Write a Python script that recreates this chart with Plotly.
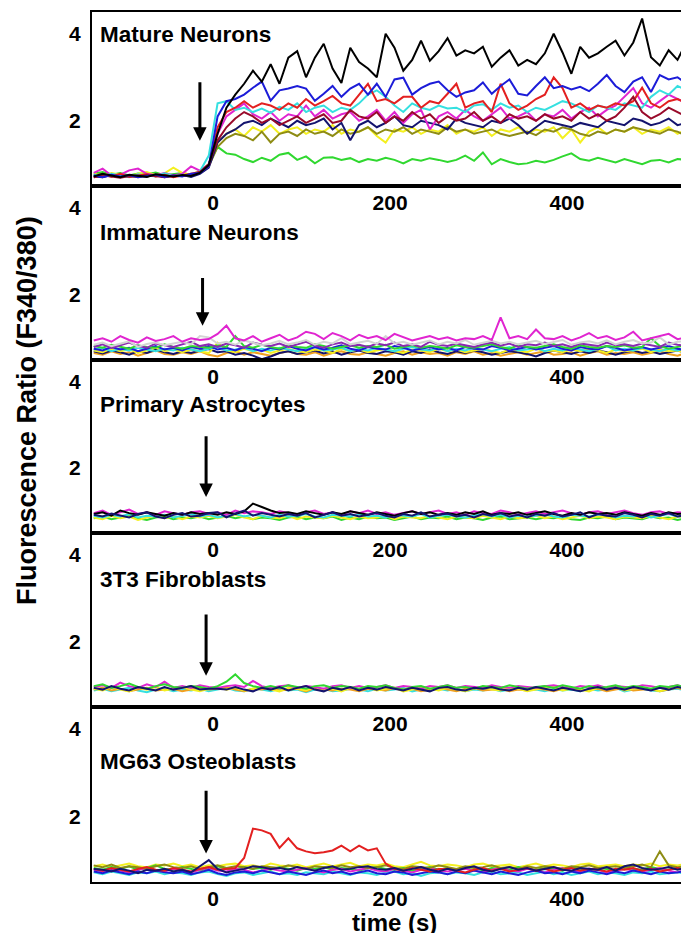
import plotly.graph_objects as go

# ---------------- data ----------------
time_s = list(range(-135, 545, 10))  # sampling times (s), 68 points

# Panel 1: Mature Neurons
mature_black = [0.72,0.78,0.74,0.70,0.76,0.73,0.71,0.77,0.74,0.72,
                0.75,0.73,0.80,0.98,1.70,2.30,2.60,2.85,3.15,2.90,
                3.30,2.85,3.45,3.60,3.00,3.45,3.77,3.20,2.87,3.68,
                3.35,3.20,3.00,4.00,3.68,3.15,3.40,3.84,3.38,3.60,
                3.90,3.50,3.62,3.55,3.70,3.24,3.45,3.62,3.27,3.40,
                3.30,3.55,4.00,3.57,3.08,3.70,3.45,3.55,3.70,3.84,
                3.50,3.80,4.35,3.46,3.27,3.62,3.40,3.80]
mature_blue = [0.74,0.70,0.76,0.72,0.75,0.70,0.73,0.76,0.71,0.74,
               0.72,0.78,0.80,0.95,2.10,2.45,2.50,2.60,2.76,2.90,
               2.46,2.70,2.74,2.80,2.74,2.46,2.62,2.80,2.55,2.74,
               2.85,2.60,2.85,2.55,2.95,2.99,2.60,2.75,2.85,2.90,
               2.70,2.55,2.65,2.70,2.88,2.62,2.80,2.95,2.62,2.58,
               2.80,3.00,2.75,2.80,2.72,2.78,2.68,2.85,3.05,2.80,
               2.66,2.90,3.00,2.66,3.05,2.95,3.00,2.85]
mature_red = [0.70,0.75,0.72,0.78,0.71,0.74,0.77,0.72,0.76,0.70,
              0.74,0.78,0.82,0.95,1.85,2.20,2.30,2.45,2.30,2.40,
              2.35,2.25,2.40,2.30,2.50,2.35,2.45,2.57,2.40,2.35,
              2.60,2.85,2.45,2.50,2.40,2.55,2.55,2.30,2.45,2.40,
              2.62,2.85,2.30,2.40,2.45,2.20,2.85,2.40,2.25,2.35,
              2.50,2.60,3.00,2.75,2.30,2.40,2.25,2.35,2.30,2.40,
              2.35,2.45,2.76,2.40,2.30,2.45,2.50,2.40]
mature_cyan = [0.76,0.72,0.78,0.74,0.70,0.77,0.74,0.72,0.79,0.73,
               0.76,0.74,0.84,1.20,2.40,2.45,2.25,2.30,2.20,2.28,
               2.18,2.32,2.25,2.40,2.20,2.30,2.35,2.20,2.30,2.25,
               2.40,2.60,2.70,2.55,2.35,2.20,2.40,2.30,2.25,2.35,
               2.28,2.30,2.20,2.35,2.38,2.25,2.40,2.30,2.35,2.20,
               2.30,2.25,2.35,2.45,2.40,2.30,2.20,2.35,2.30,2.25,
               2.40,2.35,2.30,2.55,2.70,2.60,2.80,2.70]
mature_magenta = [0.80,0.90,0.74,0.76,0.86,0.90,0.78,0.75,0.80,0.74,
                  0.78,0.95,0.85,1.00,1.70,2.10,2.25,2.40,2.15,2.05,
                  2.20,2.00,2.15,2.10,2.35,2.10,2.25,2.05,2.15,2.20,
                  2.00,2.10,2.25,2.00,2.20,1.95,2.15,2.25,1.80,2.10,
                  2.20,2.05,2.25,2.10,2.00,2.15,2.30,2.05,2.10,2.20,
                  2.00,2.15,2.10,2.25,2.05,2.20,2.30,2.10,2.25,2.35,
                  2.55,2.75,2.40,2.30,2.45,2.60,2.50,2.40]
mature_maroon = [0.70,0.74,0.72,0.69,0.73,0.71,0.75,0.72,0.70,0.74,
                 0.73,0.76,0.82,1.00,1.55,1.85,2.05,2.20,2.10,1.95,
                 2.05,1.90,2.00,2.10,1.95,2.05,2.15,1.95,2.00,2.25,
                 2.10,2.05,2.20,1.95,2.10,2.00,2.20,2.05,2.15,1.95,
                 2.10,2.00,2.05,2.20,2.00,2.10,1.95,2.15,2.05,2.10,
                 2.00,2.15,2.05,2.10,2.00,2.20,2.05,2.15,2.00,2.10,
                 2.30,2.55,2.20,2.05,2.15,2.30,2.20,2.10]
mature_navy = [0.72,0.70,0.75,0.73,0.71,0.74,0.72,0.76,0.70,0.73,
               0.75,0.71,0.78,0.92,1.50,1.70,1.80,1.95,2.00,1.90,
               2.05,1.95,1.85,2.00,1.90,1.95,2.05,1.80,1.95,1.55,
               1.90,2.00,1.85,1.95,2.10,1.90,1.85,2.00,1.95,1.90,
               1.80,2.05,1.95,1.90,1.85,2.00,1.95,2.05,1.90,1.70,
               1.85,2.00,1.95,1.90,1.85,1.95,1.90,1.85,2.00,1.95,
               1.90,2.05,2.00,1.90,1.95,2.05,1.90,1.95]
mature_yellow = [0.78,0.74,0.80,0.76,0.72,0.78,0.82,0.75,0.79,0.92,
                 0.80,0.76,0.85,1.00,1.50,1.70,1.80,1.65,1.85,1.75,
                 1.90,1.70,1.80,1.85,1.70,1.80,1.75,1.90,1.70,1.80,
                 1.75,1.85,1.65,1.50,1.80,1.75,1.85,1.70,1.80,1.75,
                 1.90,1.70,1.80,1.75,1.85,1.65,1.80,1.75,1.85,1.70,
                 1.80,1.75,1.85,1.60,1.80,1.50,1.75,1.85,1.70,1.80,
                 1.75,1.85,1.70,1.80,1.75,1.85,1.70,1.80]
mature_olive = [0.74,0.78,0.72,0.76,0.74,0.70,0.76,0.73,0.77,0.72,
                0.75,0.73,0.80,0.95,1.40,1.60,1.70,1.65,1.55,1.75,
                1.50,1.70,1.75,1.65,1.80,1.70,1.75,1.65,1.80,1.70,
                1.75,1.85,1.70,1.80,1.75,1.85,1.70,1.80,1.75,1.70,
                1.85,1.75,1.80,1.70,1.75,1.80,1.70,1.65,1.70,1.75,
                1.67,1.80,1.75,1.85,1.80,1.70,1.65,1.75,1.70,1.80,
                1.75,1.85,1.80,1.75,1.70,1.80,1.75,1.65]
mature_green = [0.78,0.82,0.76,0.80,0.74,0.79,0.77,0.81,0.75,0.78,
                0.80,0.76,0.82,1.00,1.40,1.25,1.22,1.12,1.05,1.15,
                1.08,1.22,1.26,1.10,1.18,1.02,1.15,1.16,1.10,1.14,
                1.05,1.12,1.08,1.15,1.10,1.02,1.12,1.08,1.14,1.10,
                1.05,1.10,1.20,1.08,1.27,1.00,1.12,1.05,1.00,1.02,
                1.08,1.04,1.10,1.18,1.25,1.12,1.08,1.15,1.10,1.04,
                1.12,1.06,1.00,1.08,1.10,1.04,1.12,1.10]

# Panel 2: Immature Neurons
immature_orange = [0.66,0.62,0.70,0.64,0.68,0.60,0.66,0.72,0.64,0.62,
                   0.68,0.64,0.70,0.62,0.58,0.66,0.70,0.62,0.68,0.64,
                   0.60,0.66,0.70,0.64,0.62,0.68,0.60,0.66,0.70,0.64,
                   0.62,0.68,0.64,0.60,0.66,0.70,0.62,0.68,0.64,0.66,
                   0.60,0.68,0.64,0.70,0.62,0.66,0.60,0.64,0.68,0.62,
                   0.66,0.70,0.62,0.64,0.68,0.60,0.66,0.70,0.62,0.66,
                   0.64,0.68,0.62,0.66,0.70,0.64,0.60,0.66]
immature_navy = [0.70,0.65,0.72,0.68,0.62,0.70,0.66,0.74,0.68,0.64,
                 0.70,0.66,0.72,0.75,0.68,0.70,0.62,0.66,0.60,0.52,
                 0.58,0.66,0.70,0.64,0.68,0.72,0.65,0.70,0.62,0.68,
                 0.72,0.66,0.64,0.70,0.68,0.62,0.70,0.66,0.74,0.68,
                 0.64,0.70,0.66,0.72,0.68,0.62,0.66,0.70,0.68,0.64,
                 0.58,0.66,0.72,0.68,0.64,0.70,0.66,0.72,0.68,0.62,
                 0.68,0.72,0.66,0.70,0.64,0.68,0.72,0.66]
immature_yellow = [0.72,0.68,0.76,0.70,0.74,0.66,0.72,0.78,0.70,0.74,
                   0.68,0.74,0.70,0.66,0.90,0.72,0.68,0.76,0.70,0.74,
                   0.66,0.72,0.76,0.70,0.68,0.74,0.72,0.66,0.76,0.70,
                   0.74,0.68,0.72,0.76,0.70,0.66,0.74,0.72,0.68,0.76,
                   0.70,0.74,0.68,0.72,0.76,0.70,0.66,0.74,0.72,0.68,
                   0.76,0.70,0.72,0.68,0.74,0.70,0.76,0.72,0.66,0.74,
                   0.70,0.72,0.76,0.68,0.74,0.70,0.72,0.66]
immature_cyan = [0.74,0.78,0.70,0.76,0.72,0.78,0.74,0.70,0.76,0.72,
                 0.78,0.74,0.70,0.76,0.80,0.72,0.74,0.78,0.70,0.76,
                 0.72,0.78,0.74,0.70,0.76,0.80,0.72,0.74,0.78,0.70,
                 0.76,0.72,0.78,0.74,0.70,0.76,0.80,0.74,0.72,0.78,
                 0.70,0.76,0.72,0.78,0.74,0.70,0.76,0.80,0.72,0.74,
                 0.78,0.70,0.76,0.72,0.78,0.74,0.70,0.76,0.82,0.72,
                 0.76,0.72,0.78,0.74,0.70,0.76,0.72,0.78]
immature_blue = [0.76,0.72,0.80,0.74,0.78,0.70,0.76,0.82,0.74,0.78,
                 0.72,0.80,0.76,0.82,0.74,0.78,0.72,0.80,0.76,0.70,
                 0.78,0.74,0.82,0.76,0.72,0.80,0.74,0.78,0.84,0.76,
                 0.72,0.80,0.76,0.74,0.82,0.78,0.72,0.76,0.80,0.74,
                 0.78,0.72,0.80,0.76,0.74,0.82,0.78,0.72,0.76,0.80,
                 0.74,0.78,0.82,0.76,0.72,0.80,0.76,0.74,0.82,0.78,
                 0.72,0.76,0.80,0.74,0.78,0.82,0.76,0.72]
immature_green = [0.82,0.78,0.85,0.80,0.76,0.84,0.80,0.78,0.86,0.80,
                  0.76,0.82,0.80,0.78,0.84,0.80,1.05,0.82,0.78,0.85,
                  0.80,0.76,0.84,0.80,0.78,0.86,0.82,0.76,0.80,0.84,
                  0.78,0.82,0.80,0.85,0.76,0.80,0.84,0.78,0.82,0.80,
                  0.76,0.84,0.80,0.78,0.82,0.86,0.80,0.76,0.84,0.80,
                  0.78,0.82,0.86,0.80,0.76,0.84,0.80,0.78,0.82,0.80,
                  0.84,0.78,0.80,1.00,0.82,0.76,0.80,0.84]
immature_purple = [0.80,0.86,0.78,0.84,0.90,0.82,0.78,0.88,0.84,0.80,
                   0.86,0.92,0.82,0.86,0.80,0.88,0.84,0.78,0.90,0.85,
                   0.82,0.88,0.80,0.86,0.92,0.83,0.78,0.86,0.90,0.82,
                   0.85,0.80,0.88,0.84,0.90,0.82,0.86,0.80,0.92,0.85,
                   0.82,0.88,0.84,0.80,0.86,0.90,0.83,0.88,0.80,0.86,
                   0.84,0.90,0.82,0.86,0.80,0.88,0.85,0.82,0.90,0.84,
                   0.86,0.82,0.88,0.84,0.80,0.90,0.85,0.82]
immature_gray = [0.85,0.90,0.82,0.88,0.93,0.80,0.87,0.90,0.84,0.88,
                 0.92,0.86,1.05,1.02,0.88,0.92,0.85,0.95,0.90,0.84,
                 0.88,0.94,0.86,0.90,0.96,0.85,0.92,0.88,1.00,0.86,
                 0.90,0.94,0.87,1.05,0.88,0.92,0.85,0.90,0.95,0.86,
                 0.92,0.88,0.96,0.85,0.90,0.94,0.88,0.92,0.86,0.90,
                 0.94,0.87,0.91,0.96,0.85,0.90,0.93,0.88,0.95,0.86,
                 0.92,0.96,0.88,0.90,1.02,0.86,0.92,0.94]
immature_magenta = [0.95,1.00,0.92,1.05,0.96,0.90,1.02,0.94,0.98,1.05,
                    0.92,1.00,0.96,0.98,1.10,1.29,1.00,0.95,1.05,0.92,
                    1.00,1.08,0.95,1.02,1.15,1.10,0.98,1.12,1.05,0.95,
                    1.08,1.00,1.05,0.96,1.10,1.02,0.95,1.00,1.05,0.98,
                    1.02,0.95,1.00,0.98,1.05,0.96,1.48,1.00,1.05,0.98,
                    1.20,1.00,0.98,1.05,0.95,1.02,1.12,1.00,1.05,0.96,
                    1.02,1.15,0.95,1.00,1.05,1.10,0.98,1.02]

# Panel 3: Primary Astrocytes
astro_green = [0.84,0.88,0.82,0.86,0.90,0.84,0.80,0.86,0.88,0.82,
               0.86,0.84,0.88,0.82,0.86,0.90,0.84,0.88,0.82,0.86,
               0.84,0.80,0.86,0.88,0.82,0.86,0.84,0.88,0.80,0.86,
               0.82,0.88,0.84,0.86,0.80,0.84,0.88,0.82,0.86,0.84,
               0.88,0.82,0.86,0.84,0.80,0.86,0.88,0.82,0.84,0.86,
               0.82,0.86,0.84,0.88,0.82,0.80,0.86,0.84,0.88,0.82,
               0.86,0.84,0.82,0.88,0.84,0.86,0.80,0.84]
astro_yellow = [0.86,0.82,0.90,0.84,0.88,0.80,0.86,0.90,0.84,0.88,
                0.82,0.88,0.86,0.90,0.84,0.88,0.92,0.86,0.82,0.90,
                0.86,0.84,0.90,0.82,0.88,0.86,0.84,0.90,0.86,0.82,
                0.88,0.84,0.86,0.90,0.82,0.88,0.86,0.84,0.90,0.86,
                0.82,0.88,0.86,0.84,0.90,0.86,0.82,0.88,0.84,0.86,
                0.90,0.84,0.88,0.82,0.86,0.90,0.84,0.88,0.86,0.82,
                0.88,0.86,0.84,0.90,0.86,0.82,0.88,0.86]
astro_cyan = [0.90,0.86,0.92,0.88,0.94,0.86,0.90,0.88,0.92,0.86,
              0.90,0.94,0.88,0.92,0.86,0.90,0.94,0.88,0.92,0.90,
              0.86,0.92,0.88,0.90,0.94,0.88,0.86,0.92,0.90,0.88,
              0.94,0.88,0.90,0.86,0.92,0.90,0.88,0.94,0.86,0.90,
              0.92,0.88,0.86,0.90,0.94,0.88,0.92,0.86,0.90,0.88,
              0.90,0.94,0.88,0.86,0.92,0.90,0.88,0.92,0.94,0.86,
              0.90,0.88,0.92,0.86,0.90,0.94,0.88,0.90]
astro_magenta = [0.96,1.02,0.92,0.98,1.04,0.94,0.98,0.92,1.00,0.96,
                 0.92,0.98,1.00,0.94,0.98,0.92,1.02,0.96,1.00,0.98,
                 0.94,1.00,0.96,0.92,0.98,1.02,0.94,0.98,0.92,1.00,
                 0.96,1.02,0.94,0.98,0.92,0.96,1.00,0.94,0.98,1.02,
                 0.94,0.98,0.92,1.00,0.96,0.94,1.02,0.98,0.92,0.96,
                 1.00,0.94,0.98,1.02,0.96,0.92,0.98,1.00,0.94,0.98,
                 1.02,0.96,0.92,0.98,1.00,0.94,0.98,0.96]
astro_black = [0.94,0.98,0.90,1.02,0.96,0.92,0.98,0.94,0.90,0.96,
               0.92,0.98,0.94,0.96,0.92,0.98,0.94,1.00,1.18,1.10,
               1.02,0.96,0.98,0.94,1.00,0.96,0.92,0.98,0.94,1.00,
               0.96,0.92,0.98,0.94,0.90,0.96,1.00,0.94,0.98,0.92,
               0.96,0.92,0.98,0.94,1.00,0.92,0.96,0.94,0.98,0.92,
               0.96,1.00,0.94,0.90,0.96,0.92,0.98,0.94,0.96,0.92,
               0.98,0.94,0.90,0.96,0.92,0.98,0.94,0.96]
astro_navy = [0.92,0.88,0.95,0.90,0.86,0.94,0.98,0.88,0.84,0.92,
              0.96,0.88,0.90,0.96,0.98,0.86,0.95,1.02,0.90,0.96,
              0.92,0.88,0.94,0.90,0.96,0.86,0.92,0.98,0.90,0.94,
              0.88,0.92,0.96,0.90,0.86,0.94,0.90,0.98,0.88,0.92,
              0.95,0.88,0.92,0.86,0.94,0.90,0.96,0.88,0.92,0.86,
              0.94,0.90,0.96,0.88,0.92,0.98,0.86,0.94,0.90,0.88,
              0.96,0.92,0.86,0.94,0.90,0.96,0.88,0.92]

# Panel 4: 3T3 Fibroblasts
fibro_cyan = [0.88,0.92,0.86,0.90,0.94,0.88,0.84,0.90,0.92,0.86,
              0.90,0.88,0.92,0.86,0.90,0.94,0.88,0.86,0.92,0.90,
              0.86,0.92,0.88,0.90,0.84,0.90,0.92,0.86,0.88,0.92,
              0.90,0.86,0.92,0.88,0.90,0.94,0.86,0.90,0.88,0.92,
              0.88,0.92,0.86,0.90,0.88,0.92,0.86,0.90,0.94,0.88,
              0.90,0.86,0.92,0.88,0.90,0.86,0.92,0.88,0.90,0.94,
              0.86,0.90,0.92,0.88,0.86,0.90,0.92,0.88]
fibro_orange = [0.90,0.94,0.88,0.92,0.86,0.90,0.94,0.88,0.90,0.92,
                0.86,0.90,0.94,0.90,0.92,0.96,0.90,0.86,0.92,0.90,
                0.94,0.88,0.90,0.92,0.86,0.94,0.90,0.88,0.92,0.90,
                0.86,0.92,0.90,0.88,0.94,0.90,0.92,0.86,0.90,0.94,
                0.90,0.86,0.92,0.94,0.88,0.90,0.92,0.86,0.90,0.88,
                0.92,0.90,0.86,0.92,0.94,0.88,0.90,0.92,0.86,0.90,
                0.94,0.88,0.90,0.92,0.86,0.90,0.94,0.88]
fibro_yellow = [0.92,0.88,0.96,0.90,0.86,0.94,0.90,0.96,0.88,0.92,
                0.96,0.90,0.86,0.92,0.96,0.90,0.94,0.88,0.92,0.96,
                0.90,0.86,0.94,0.92,0.88,0.96,0.90,0.92,0.86,0.94,
                0.90,0.96,0.88,0.92,0.94,0.86,0.90,0.96,0.92,0.88,
                0.94,0.90,0.86,0.92,0.96,0.90,0.88,0.94,0.92,0.86,
                0.90,0.94,0.96,0.88,0.92,0.90,0.86,0.94,0.92,0.96,
                0.88,0.92,0.94,0.90,0.86,0.92,0.96,0.90]
fibro_magenta = [0.96,1.00,0.94,1.06,0.98,0.94,1.02,0.96,1.08,0.94,
                 0.98,0.94,1.00,0.96,0.94,0.98,1.00,0.96,1.10,0.98,
                 0.94,0.98,1.00,0.94,0.98,0.96,0.92,0.98,1.00,0.94,
                 0.98,0.94,0.96,1.00,0.94,0.98,0.96,0.92,0.98,0.96,
                 1.00,0.94,0.98,0.96,0.94,1.00,0.96,0.94,0.98,0.96,
                 0.94,0.98,1.00,0.96,0.92,0.98,0.96,1.00,0.94,0.98,
                 0.96,0.94,1.00,0.98,0.94,0.96,1.00,0.94]
fibro_green = [0.98,1.02,0.94,0.98,1.04,0.96,0.92,0.98,1.02,0.96,
               0.94,0.98,0.96,0.92,0.98,1.08,1.25,1.05,0.98,0.94,
               0.98,0.94,1.00,0.96,0.92,0.98,1.00,0.94,0.98,0.96,
               0.92,0.98,0.96,1.00,0.94,0.90,0.96,0.98,0.92,0.96,
               1.00,0.94,0.96,0.92,0.98,0.96,0.94,1.00,0.96,0.92,
               0.96,0.98,0.94,1.00,0.96,0.92,0.98,0.94,0.96,1.00,
               0.94,0.98,0.96,0.92,0.98,0.96,1.00,0.94]
fibro_navy = [0.94,0.90,0.98,0.92,0.88,0.96,0.92,0.88,0.96,0.90,
              0.94,0.98,0.90,0.92,0.92,0.90,0.96,0.90,0.86,0.94,
              0.90,0.96,0.88,0.94,0.98,0.90,0.86,0.94,0.90,0.96,
              0.88,0.94,0.90,0.96,0.92,0.88,0.94,0.90,0.86,0.94,
              0.96,0.90,0.88,0.94,0.92,0.96,0.90,0.88,0.94,0.90,
              0.96,0.92,0.88,0.94,0.90,0.86,0.92,0.96,0.90,0.94,
              0.90,0.96,0.92,0.88,0.94,0.90,0.96,0.92]

# Panel 5: MG63 Osteoblasts
osteo_cyan = [0.72,0.68,0.74,0.70,0.66,0.72,0.70,0.74,0.68,0.72,
              0.70,0.66,0.72,0.74,0.68,0.64,0.70,0.72,0.66,0.70,
              0.74,0.68,0.70,0.66,0.72,0.70,0.68,0.74,0.70,0.66,
              0.72,0.70,0.66,0.72,0.74,0.68,0.70,0.64,0.70,0.72,
              0.68,0.72,0.70,0.66,0.72,0.74,0.68,0.70,0.72,0.66,
              0.70,0.74,0.68,0.72,0.66,0.70,0.74,0.68,0.72,0.70,
              0.66,0.72,0.70,0.74,0.68,0.70,0.72,0.68]
osteo_yellow = [0.86,0.90,0.84,0.88,0.92,0.86,0.84,0.90,0.88,0.92,
                0.86,0.90,0.84,0.88,0.86,0.90,0.92,0.86,0.88,0.84,
                0.92,0.88,0.86,0.90,0.84,0.88,0.92,0.86,0.90,0.94,
                0.86,0.90,0.88,0.92,0.86,0.84,0.90,0.96,0.88,0.86,
                0.90,0.88,0.84,0.90,0.92,0.86,0.88,0.90,0.84,0.88,
                0.92,0.86,0.90,0.88,0.84,0.90,0.92,0.86,0.88,0.90,
                0.86,0.90,0.88,0.92,0.86,0.90,0.88,0.92]
osteo_green = [0.82,0.78,0.84,0.80,0.86,0.78,0.82,0.88,0.80,0.78,
               0.84,0.80,0.76,0.82,0.86,0.80,0.78,0.84,0.80,0.82,
               0.78,0.84,0.80,0.76,0.82,0.80,0.84,0.78,0.82,0.80,
               0.76,0.82,0.84,0.80,0.78,0.82,0.76,0.80,0.84,0.78,
               0.82,0.78,0.80,0.84,0.76,0.82,0.80,0.78,0.84,0.80,
               0.78,0.82,0.80,0.76,0.84,0.80,0.78,0.82,0.80,0.76,
               0.82,0.80,0.78,0.84,0.80,0.78,0.82,0.80]
osteo_magenta = [0.78,0.74,0.80,0.76,0.72,0.78,0.82,0.76,0.74,0.80,
                 0.76,0.72,0.78,0.82,0.76,0.74,0.80,0.78,0.72,0.76,
                 0.80,0.76,0.74,0.78,0.82,0.76,0.72,0.78,0.80,0.74,
                 0.78,0.82,0.76,0.74,0.80,0.76,0.72,0.78,0.82,0.76,
                 0.74,0.78,0.80,0.76,0.72,0.78,0.82,0.76,0.74,0.80,
                 0.76,0.72,0.78,0.82,0.76,0.74,0.80,0.78,0.72,0.76,
                 0.80,0.76,0.74,0.78,0.82,0.76,0.72,0.78]
osteo_olive = [0.88,0.84,0.90,0.82,0.86,0.84,0.80,0.86,0.90,0.84,
               0.82,0.86,0.80,0.84,0.88,0.82,0.86,0.84,0.80,0.86,
               0.84,0.82,0.88,0.84,0.80,0.86,0.84,0.82,0.88,0.84,
               0.86,0.82,0.84,0.88,0.82,0.80,0.86,0.84,0.82,0.88,
               0.84,0.80,0.86,0.82,0.84,0.88,0.82,0.84,0.80,0.86,
               0.82,0.86,0.84,0.80,0.86,0.84,0.88,0.82,0.84,0.86,
               0.82,0.86,0.90,0.84,1.20,0.88,0.84,0.86]
osteo_blue = [0.74,0.70,0.76,0.72,0.68,0.74,0.70,0.76,0.72,0.70,
              0.74,0.68,0.72,0.78,0.70,0.66,0.72,0.74,0.70,0.76,
              0.72,0.68,0.74,0.70,0.66,0.72,0.76,0.70,0.74,0.68,
              0.72,0.76,0.70,0.68,0.74,0.72,0.66,0.70,0.74,0.72,
              0.68,0.74,0.70,0.76,0.72,0.68,0.74,0.70,0.66,0.72,
              0.76,0.70,0.72,0.68,0.74,0.70,0.76,0.72,0.68,0.74,
              0.70,0.76,0.72,0.68,0.74,0.70,0.72,0.76]
osteo_red = [0.80,0.76,0.82,0.78,0.74,0.80,0.84,0.78,0.76,0.82,
             0.78,0.74,0.80,0.84,0.78,0.80,0.82,1.05,1.72,1.68,
             1.60,1.28,1.50,1.27,1.20,1.16,1.18,1.22,1.33,1.20,
             1.33,1.22,1.27,0.92,0.80,0.76,0.82,0.78,0.74,0.80,
             0.80,0.76,0.72,0.78,0.82,0.76,0.80,0.74,0.78,0.82,
             0.76,0.80,0.74,0.78,0.82,0.76,0.80,0.78,0.74,0.80,
             0.78,0.82,0.76,0.80,0.74,0.78,0.82,0.76]
osteo_navy = [0.80,0.78,0.74,0.80,0.76,0.70,0.78,0.76,0.80,0.74,
              0.78,0.72,0.86,1.00,0.80,0.72,0.76,0.80,0.86,0.84,
              0.80,0.82,0.78,0.84,0.80,0.76,0.82,0.86,0.78,0.80,
              0.84,0.86,0.80,0.78,0.82,0.76,0.80,0.84,0.78,0.74,
              0.80,0.76,0.82,0.86,0.78,0.74,0.80,0.84,0.78,0.82,
              0.76,0.80,0.84,0.78,0.76,0.82,0.80,0.78,0.84,0.76,
              0.86,0.90,0.82,0.78,0.80,0.84,0.78,0.82]

panel_labels = ["Mature Neurons", "Immature Neurons", "Primary Astrocytes",
                "3T3 Fibroblasts", "MG63 Osteoblasts"]
x_ticks = [0, 200, 400]
y_ticks = [2, 4]
# stimulus arrow: time, tail value, tip value
arrow_time = [-15, -12, -8, -8, -8]
arrow_tail = [2.92, 2.42, 2.77, 2.66, 2.62]
arrow_tip = [1.54, 1.29, 1.33, 1.22, 1.15]

C = dict(black="#000000", blue="#1c1cd8", red="#e32020", cyan="#35e0e0",
         magenta="#e025d0", maroon="#990a2a", navy="#14146e", yellow="#f4f020",
         olive="#8e8c14", green="#30d830", purple="#8a2ab0", gray="#d4d4d4",
         orange="#f0a020")

panels = [
    [(mature_green, "green"), (mature_yellow, "yellow"), (mature_olive, "olive"),
     (mature_navy, "navy"), (mature_magenta, "magenta"), (mature_cyan, "cyan"),
     (mature_red, "red"), (mature_maroon, "maroon"), (mature_blue, "blue"),
     (mature_black, "black")],
    [(immature_orange, "orange"), (immature_navy, "navy"), (immature_yellow, "yellow"),
     (immature_cyan, "cyan"), (immature_blue, "blue"), (immature_green, "green"),
     (immature_purple, "purple"), (immature_gray, "gray"), (immature_magenta, "magenta")],
    [(astro_green, "green"), (astro_yellow, "yellow"), (astro_cyan, "cyan"),
     (astro_magenta, "magenta"), (astro_black, "black"), (astro_navy, "navy")],
    [(fibro_cyan, "cyan"), (fibro_orange, "orange"), (fibro_yellow, "yellow"),
     (fibro_magenta, "magenta"), (fibro_green, "green"), (fibro_navy, "navy")],
    [(osteo_cyan, "cyan"), (osteo_yellow, "yellow"), (osteo_green, "green"),
     (osteo_magenta, "magenta"), (osteo_olive, "olive"), (osteo_blue, "blue"),
     (osteo_red, "red"), (osteo_navy, "navy")],
]

# ---------------- figure ----------------
OFF = 8  # the page body margin shifts the figure by 8 px
W, H = 689 - OFF, 933 - OFF
bounds_page = [(12, 186), (186, 360), (360, 533), (533, 707), (707, 882)]
bounds = [(a - OFF, b - OFF) for a, b in bounds_page]
M_L, M_R = 92 - OFF, 0
M_T = bounds[0][0]
M_B = H - bounds[-1][1]
plot_h = H - M_T - M_B
plot_w = W - M_L - M_R
FONT = "Liberation Sans, Arial, sans-serif"

fig = go.Figure()
layout = dict(width=W, height=H,
              margin=dict(l=M_L, r=M_R, t=M_T, b=M_B, autoexpand=False),
              paper_bgcolor="white", plot_bgcolor="white", showlegend=False)
annotations = []

for k, series in enumerate(panels, start=1):
    xs = "x" if k == 1 else f"x{k}"
    ys = "y" if k == 1 else f"y{k}"
    for vals, cname in series:
        fig.add_trace(go.Scatter(x=time_s, y=vals, mode="lines",
                                 line=dict(color=C[cname], width=2),
                                 xaxis=xs, yaxis=ys, hoverinfo="skip"))
    top, bot = bounds[k - 1]
    dom = [(H - M_B - bot) / plot_h, (H - M_B - top) / plot_h]
    xkey = "xaxis" if k == 1 else f"xaxis{k}"
    ykey = "yaxis" if k == 1 else f"yaxis{k}"
    layout[xkey] = dict(domain=[0, 1], anchor=ys, range=[-137, 538],
                        tickmode="array", tickvals=x_ticks, ticks="",
                        ticklabelstandoff=-3, automargin=False,
                        showline=True, linecolor="black", linewidth=2, mirror=True,
                        showgrid=False, zeroline=False,
                        tickfont=dict(family=FONT, size=21, color="black", weight="bold"))
    layout[ykey] = dict(domain=dom, anchor=xs, range=[0.5, 4.5],
                        tickmode="array", tickvals=y_ticks, ticks="",
                        ticklabelstandoff=5, automargin=False,
                        showline=True, linecolor="black", linewidth=2, mirror=False,
                        showgrid=False, zeroline=False,
                        tickfont=dict(family=FONT, size=21, color="black", weight="bold"))
    label_y = [0.868, 0.73, 0.74, 0.73, 0.686][k - 1]
    annotations.append(dict(text=f"<b>{panel_labels[k-1]}</b>", xref=f"{xs} domain",
                            yref=f"{ys} domain", x=0.01, y=label_y, xanchor="left",
                            yanchor="middle", showarrow=False,
                            font=dict(family=FONT, size=22.5, color="black")))
    annotations.append(dict(text="", x=arrow_time[k-1], y=arrow_tip[k-1],
                            ax=arrow_time[k-1], ay=arrow_tail[k-1],
                            xref=xs, yref=ys, axref=xs, ayref=ys, showarrow=True,
                            arrowhead=2, arrowsize=0.9, arrowwidth=3,
                            arrowcolor="black", standoff=0))

# x-axis title (placed as a paper annotation so it can sit at the page's bottom edge)
annotations.append(dict(text="<b>time (s)</b>", xref="paper", yref="paper",
                        x=(394 - 92) / plot_w, y=-(907 - 882) / plot_h,
                        xanchor="center", yanchor="top", showarrow=False,
                        font=dict(family=FONT, size=24, color="black")))
annotations.append(dict(text="<b>Fluorescence Ratio (F340/380)</b>", xref="paper",
                        yref="paper", x=(27 - 92) / plot_w,
                        y=(H - M_B - (411 - OFF)) / plot_h, xanchor="center",
                        yanchor="middle", textangle=-90, showarrow=False,
                        font=dict(family=FONT, size=27, color="black")))
layout["annotations"] = annotations
fig.update_layout(**layout)
fig.write_html("out.html")
